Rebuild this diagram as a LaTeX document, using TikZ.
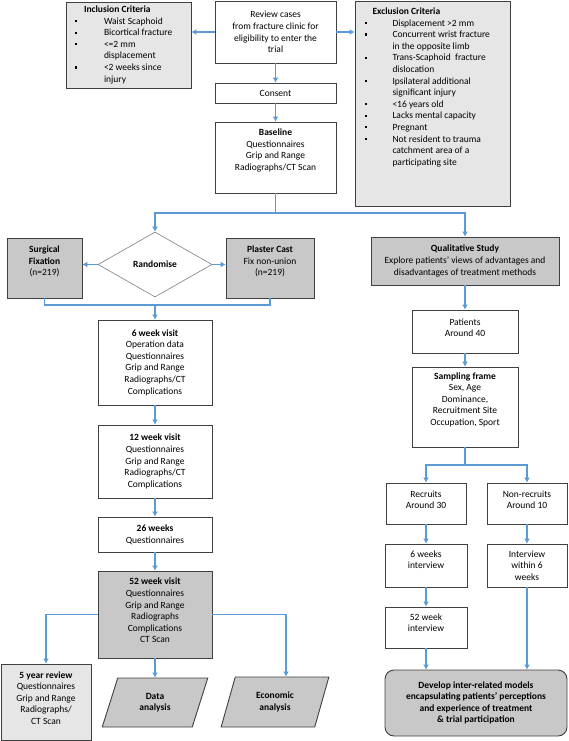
\documentclass[tikz,border=0pt]{standalone}
\usepackage{fontspec}
\setmainfont{Carlito}
\usepackage{array}
\usetikzlibrary{shapes.geometric,arrows.meta}
\definecolor{flowblue}{HTML}{5B9BD5}
\definecolor{boxline}{HTML}{404040}
\definecolor{darkfill}{HTML}{C8C8C8}
\definecolor{lightfill}{HTML}{E6E6E6}
\newcommand{\liftup}[2]{\raisebox{#1}[\height][\depth]{\begin{tabular}{@{}c@{}}#2\end{tabular}}}
\newcommand{\sq}{\rule[2pt]{2.2pt}{2.2pt}}

\begin{document}
\begin{tikzpicture}[x=1pt,y=-1pt,
  font=\fontsize{9.5}{11.6}\selectfont,
  box/.style={draw=boxline,line width=0.9pt,fill=white,align=center,inner sep=1pt},
  dark/.style={box,fill=darkfill},
  light/.style={box,fill=lightfill},
  flow/.style={draw=flowblue,line width=1.1pt,-{Latex[length=5pt,width=6pt]}},
  link/.style={draw=flowblue,line width=1.1pt}]
\useasboundingbox (0,0) rectangle (568,741);

% screening
\node[box,minimum width=121,minimum height=62] (review) at (275.5,32) {Review cases\\from fracture clinic for\\eligibility to enter the\\trial};
\node[light,minimum width=125,minimum height=86] (incl) at (128.5,45) {%
\begin{tabular}{@{}p{29pt}@{}>{\raggedright\arraybackslash}p{78pt}@{}}
\multicolumn{2}{@{}l@{}}{\hspace{9pt}\textbf{Inclusion Criteria}}\\
\sq & Waist Scaphoid\\
\sq & Bicortical fracture\\
\sq & <=2 mm\newline displacement\\
\sq & <2 weeks since\newline injury
\end{tabular}};
\node[light,minimum width=155,minimum height=205] (excl) at (432.5,103.5) {\raisebox{16pt}[\height][\depth]{%
\begin{tabular}{@{}p{28pt}@{}>{\raggedright\arraybackslash}p{108pt}@{}}
\multicolumn{2}{@{}l@{}}{\hspace{8pt}\textbf{Exclusion Criteria}}\\
\sq & Displacement >2 mm\\
\sq & Concurrent wrist fracture\newline in the opposite limb\\
\sq & Trans-Scaphoid\ \ fracture\newline dislocation\\
\sq & Ipsilateral additional\newline significant injury\\
\sq & <16 years old\\
\sq & Lacks mental capacity\\
\sq & Pregnant\\
\sq & Not resident to trauma\newline catchment area of a\newline participating site
\end{tabular}}};
\node[box,minimum width=121,minimum height=20] (consent) at (275.5,93) {Consent};
\node[box,minimum width=121,minimum height=71] (base) at (275.5,157.5) {\liftup{7pt}{\textbf{Baseline}\\Questionnaires\\Grip and Range\\Radiographs/CT Scan}};

% trial arm
\node[diamond,draw=gray,line width=0.6pt,fill=white,minimum width=114,minimum height=65,inner sep=0pt] (rand) at (155,264.5) {\textbf{Randomise}};
\node[dark,minimum width=75,minimum height=60] (surg) at (44.5,268) {\liftup{6pt}{\textbf{Surgical}\\\textbf{Fixation}\\(n=219)}};
\node[dark,minimum width=88,minimum height=60] (plas) at (270,268) {\liftup{6pt}{\textbf{Plaster Cast}\\Fix non-union\\(n=219)}};
\node[box,minimum width=114,minimum height=85] (wk6) at (155,362.5) {\textbf{6 week visit}\\Operation data\\Questionnaires\\Grip and Range\\Radiographs/CT\\Complications};
\node[box,minimum width=114,minimum height=73] (wk12) at (155,461.5) {\textbf{12 week visit}\\Questionnaires\\Grip and Range\\Radiographs/CT\\Complications};
\node[box,minimum width=114,minimum height=35] (wk26) at (155,534.5) {\textbf{26 weeks}\\Questionnaires};
\node[dark,minimum width=114,minimum height=87] (wk52) at (155,614.5) {\liftup{3pt}{\textbf{52 week visit}\\Questionnaires\\Grip and Range\\Radiographs\\Complications\\CT Scan}};
\node[light,minimum width=90,minimum height=76] (yr5) at (46,702) {\liftup{3pt}{\textbf{5 year review}\\Questionnaires\\Grip and Range\\Radiographs/\\CT Scan}};
\node[dark,trapezium,trapezium left angle=72,trapezium right angle=108,trapezium stretches=true,minimum width=106,minimum height=49] (data) at (155,702.5) {\textbf{Data}\\\textbf{analysis}};
\node[dark,trapezium,trapezium left angle=72,trapezium right angle=108,trapezium stretches=true,minimum width=108,minimum height=50] (econ) at (275,702) {\textbf{Economic}\\\textbf{analysis}};

% qualitative arm
\node[dark,minimum width=188,minimum height=48] (qual) at (465,261) {\textbf{Qualitative Study}\\Explore patients’ views of advantages and\\disadvantages of treatment methods};
\node[box,minimum width=106,minimum height=43] (patients) at (465,331.5) {\liftup{3pt}{Patients\\Around 40}};
\node[box,minimum width=106,minimum height=80] (sampling) at (465,407) {\liftup{7pt}{\textbf{Sampling frame}\\Sex, Age\\Dominance,\\Recruitment Site\\Occupation, Sport}};
\node[box,minimum width=80,minimum height=41] (recruits) at (426,503.5) {\liftup{3pt}{Recruits\\Around 30}};
\node[box,minimum width=80,minimum height=41] (nonrec) at (527,503.5) {\liftup{3pt}{Non-recruits\\Around 10}};
\node[box,minimum width=82,minimum height=43] (int6) at (426,565.5) {\liftup{5pt}{6 weeks\\interview}};
\node[box,minimum width=80,minimum height=43] (intw6) at (527,565.5) {Interview\\within 6\\weeks};
\node[box,minimum width=82,minimum height=41] (int52) at (426,627.5) {\liftup{4pt}{52 week\\interview}};
\node[dark,rounded corners=9pt,minimum width=182,minimum height=66] (develop) at (476,703) {\textbf{Develop inter-related models}\\\textbf{encapsulating patients’ perceptions}\\\textbf{and experience of treatment}\\\textbf{\& trial participation}};

\coordinate (split) at (275.5,213);
\coordinate (merge) at (155,305);
\coordinate (fork) at (465,465);

\draw[flow] (review.west) -- (review.west -| incl.east);
\draw[flow] (review.east) -- (review.east -| excl.west);
\draw[flow] (review) -- (consent);
\draw[flow] (consent) -- (base);
\draw[flow] (base) -- (split) -| (rand);
\draw[flow] (split) -| (qual);

\draw[flow] (rand.west) -- (rand.west -| surg.east);
\draw[flow] (rand.east) -- (rand.east -| plas.west);
\draw[link] (surg) |- (merge);
\draw[link] (plas) |- (merge);
\draw[flow] (merge) -- (wk6);
\draw[flow] (wk6) -- (wk12);
\draw[flow] (wk12) -- (wk26);
\draw[flow] (wk26) -- (wk52);
\draw[flow] (wk52) -| (yr5);
\draw[flow] (wk52) -- (data);
\draw[flow] (wk52) -| ([xshift=11pt]econ.north);

\draw[flow] (qual) -- (patients);
\draw[flow] (patients) -- (sampling);
\draw[link] (sampling) -- (fork);
\draw[flow] (fork) -| (recruits);
\draw[flow] (fork) -| (nonrec);
\draw[flow] (recruits) -- (int6);
\draw[flow] (int6) -- (int52);
\draw[flow] (int52) -- (int52 |- develop.north);
\draw[flow] (nonrec) -- (intw6);
\draw[flow] (intw6) -- (intw6 |- develop.north);
\end{tikzpicture}
\end{document}
